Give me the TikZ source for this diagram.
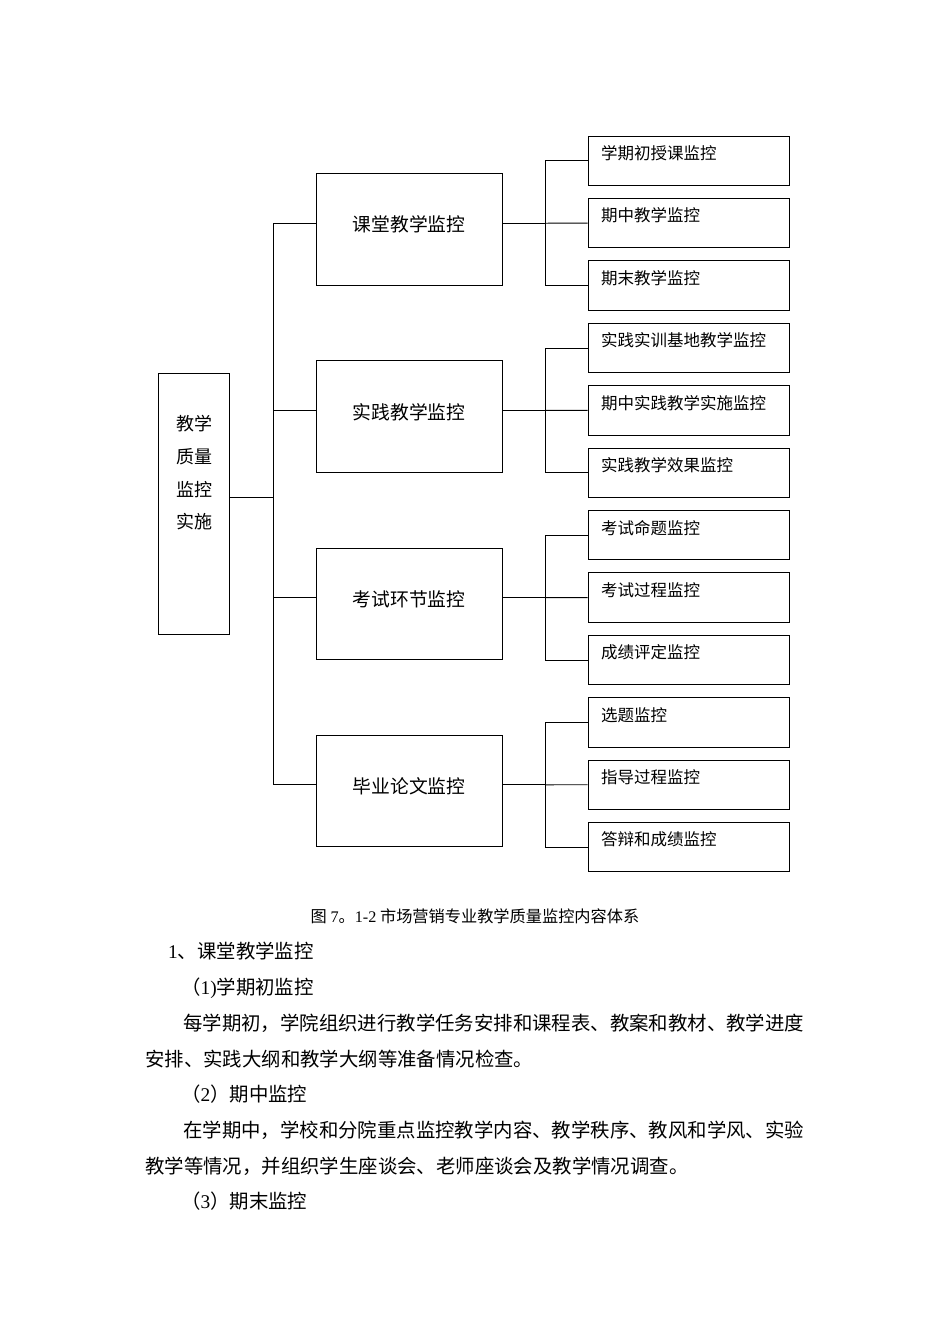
\documentclass[tikz,border=0pt]{standalone}
\usepackage{fontspec}
\setmainfont{Liberation Serif}
\newfontfamily\cjk{Noto Sans CJK SC}
\newcommand{\lat}[1]{{\rmfamily #1}}
\tikzset{
  box/.style={draw, line width=0.9pt, inner sep=0pt},
  midbox/.style={box, minimum width=186pt, minimum height=111.5pt},
  leafbox/.style={box, minimum width=201pt, minimum height=49.5pt},
  midtxt/.style={inner sep=0pt, font={\cjk\fontsize{18.8}{22}\selectfont}},
  leaftxt/.style={inner sep=0pt, anchor=west, font={\cjk\fontsize{16.5}{19}\selectfont}},
  body/.style={inner sep=0pt, anchor=base west, font={\cjk\fontsize{19.4}{23}\selectfont}},
  conn/.style={line width=0.9pt},
}
\begin{document}
\begin{tikzpicture}[x=1pt,y=-1pt]
\useasboundingbox (0,0) rectangle (950,1344);
% root
\node[box, minimum width=71pt, minimum height=261pt] (root) at (193.5,503.5) {};
\node[inner sep=0pt, align=center, font={\cjk\fontsize{18}{32.7}\selectfont}] (roottxt) at (194.5,473) {教学\\质量\\监控\\实施};
\coordinate (tr) at (273,497);
% middle boxes
\foreach \i/\t in {0/课堂教学监控,1/实践教学监控,2/考试环节监控,3/毕业论文监控}{
  \pgfmathsetmacro{\c}{223.2+187.2*\i}
  \node[midbox] (m\i) at (409,\c+6.25) {};
  \node[midtxt] (t\i) at (409,\c+1.5) {\t};
  \coordinate (b\i) at (545,\c);
}
% leaves
\foreach \i/\a/\b/\cc in {0/学期初授课监控/期中教学监控/期末教学监控,
  1/实践实训基地教学监控/期中实践教学实施监控/实践教学效果监控,
  2/考试命题监控/考试过程监控/成绩评定监控,
  3/选题监控/指导过程监控/答辩和成绩监控}{
  \pgfmathsetmacro{\y}{160.75+62.4*(3*\i)}
  \node[leafbox] (l\i a) at (688.5,\y) {};
  \node[leaftxt] (lt\i a) at (601,\y-7.5) {\a};
  \pgfmathsetmacro{\y}{160.75+62.4*(3*\i+1)}
  \node[leafbox] (l\i b) at (688.5,\y) {};
  \node[leaftxt] (lt\i b) at (601,\y-7.5) {\b};
  \pgfmathsetmacro{\y}{160.75+62.4*(3*\i+2)}
  \node[leafbox] (l\i c) at (688.5,\y) {};
  \node[leaftxt] (lt\i c) at (601,\y-7.5) {\cc};
  \draw[conn] (b\i -| m\i.east) -- (b\i);
  \draw[conn] (l\i a.west) -- (l\i a.west -| b\i) -- (l\i c.west -| b\i) -- (l\i c.west);
  \draw[conn] (b\i) -- (l\i b.west);
}
% trunk
\draw[conn] (root.east |- tr) -- (tr);
\draw[conn] (b0 -| tr) -- (b3 -| tr);
\foreach \i in {0,1,2,3}{
  \draw[conn] (b\i -| tr) -- (b\i -| m\i.west);
}
% caption
\node[inner sep=0pt, font={\fontsize{16.2}{19}\selectfont}] (cap) at (475,916) {\cjk 图 \lat{7}\cjk 。\lat{1-2} \cjk 市场营销专业教学质量监控内容体系};
% body text
\node[body] (p1) at (168,958) {\lat{1}\cjk 、课堂教学监控};
\node[body] (p2) at (181,994) {（\lat{1)}\cjk 学期初监控};
\node[body] (p3) at (183,1030) {每学期初，学院组织进行教学任务安排和课程表、教案和教材、教学进度};
\node[body] (p4) at (145,1066) {安排、实践大纲和教学大纲等准备情况检查。};
\node[body] (p5) at (181,1101) {（\lat{2}\cjk ）期中监控};
\node[body] (p6) at (183,1137) {在学期中，学校和分院重点监控教学内容、教学秩序、教风和学风、实验};
\node[body] (p7) at (145,1173) {教学等情况，并组织学生座谈会、老师座谈会及教学情况调查。};
\node[body] (p8) at (181,1208) {（\lat{3}\cjk ）期末监控};
\end{tikzpicture}
\end{document}
